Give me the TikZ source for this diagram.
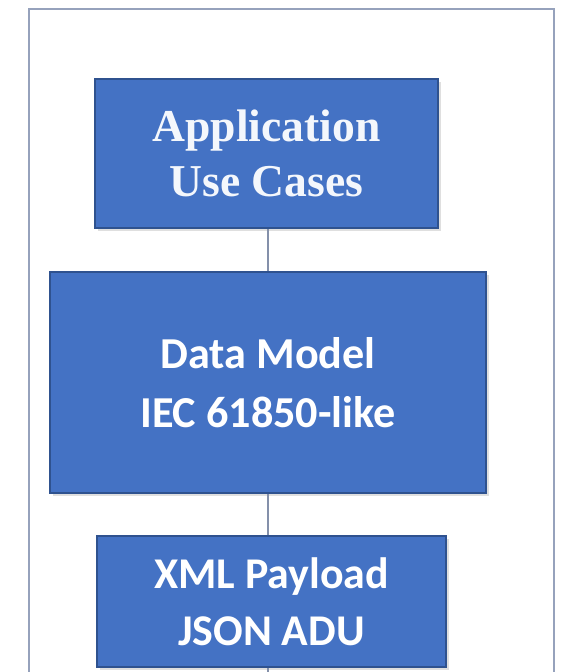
\documentclass[tikz,border=0pt]{standalone}
\usepackage{fontspec}
\usetikzlibrary{shadows}
\newfontfamily\titleserif{Liberation Serif}
\newfontfamily\labelsans{Carlito}
\definecolor{boxfill}{HTML}{4472C4}
\definecolor{boxedge}{HTML}{2F528F}
\definecolor{framecol}{RGB}{150,162,188}
\definecolor{linkcol}{RGB}{132,144,170}
\definecolor{softwhite}{RGB}{244,247,252}
\tikzset{
  layer/.style={draw=boxedge, line width=1.6pt, fill=boxfill, text=white,
    align=center, inner sep=0pt, font=\labelsans\bfseries,
    drop shadow={opacity=0.25, shadow xshift=3pt, shadow yshift=-3pt}},
  link/.style={draw=linkcol, line width=2.8pt},
  frame/.style={draw=framecol, line width=2.2pt}
}
\begin{document}
\begin{tikzpicture}[x=1pt, y=-1pt]
  \useasboundingbox[fill=white] (0,0) rectangle (565,672);
  % outer frame, open at the bottom edge
  \begin{scope}
    \clip (0,0) rectangle (565,672);
    \draw[frame] (29,690) -- (29,9) -- (554,9) -- (554,690);
  \end{scope}
  % layers
  \node[layer, minimum width=343pt, minimum height=149pt,
        text=softwhite, font=\titleserif\bfseries\fontsize{45.6}{55}\selectfont]
    (app) at (266.5,153.5) {Application\\Use Cases};
  \node[layer, minimum width=436pt, minimum height=221pt,
        font=\labelsans\bfseries\fontsize{44.2}{59}\selectfont]
    (model) at (268,382.5) {Data Model\\IEC 61850-like};
  \node[layer, minimum width=349pt, minimum height=131pt,
        font=\labelsans\bfseries\fontsize{43.9}{57}\selectfont]
    (payload) at (271.5,601.5) {XML Payload\\JSON ADU};
  % vertical links between layers
  \coordinate (tail) at (268,672);
  \draw[link] (app.south -| model.north) -- (model.north);
  \draw[link] (model.south) -- (payload.north -| model.south);
  \draw[link] (payload.south -| model.south) -- (tail);
\end{tikzpicture}
\end{document}
